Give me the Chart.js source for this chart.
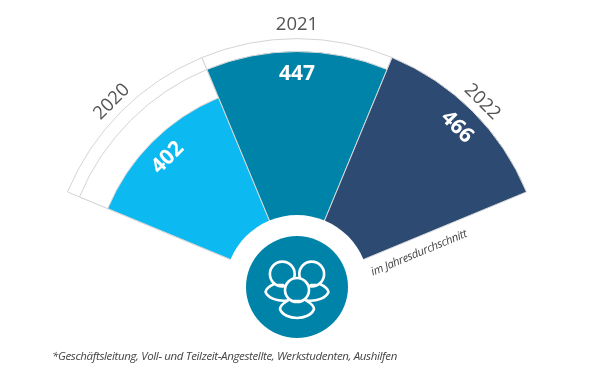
<!DOCTYPE html>
<html lang="de">

<head>
    <meta charset="UTF-8">
    <title>Mitarbeiter im Jahresdurchschnitt</title>
    <script src="https://cdn.jsdelivr.net/npm/chart.js"></script>
    <style>
        html, body { margin: 0; width: 594px; height: 380px; overflow: hidden; background: #fff; }
        #wrap { position: relative; width: 594px; height: 380px; overflow: hidden; }
        #myChart { position: absolute; left: 0; top: 0; }
        #fussnote {
            position: absolute; left: 52px; top: 348px; white-space: nowrap;
            font: italic 11.5px "Open Sans", sans-serif; letter-spacing: -0.35px; color: #444;
        }
    </style>
</head>

<body>
    <div id="wrap">
        <canvas id="myChart" width="594" height="574"></canvas>
        <div id="fussnote">*Geschäftsleitung, Voll- und Teilzeit-Angestellte, Werkstudenten, Aushilfen</div>
    </div>

    <script>
        const jahre = ['2020', '2021', '2022'];
        const werte = [402, 447, 466];
        // grey outlines behind the smaller years
        const rahmen447 = [447, null, null];
        const rahmen466 = [466, 466, null];
        const farben = ['#0cb9f0', '#0083a9', '#2d4b72'];

        const schrift = '"Open Sans", sans-serif';

        // text rotated so it follows the arc, dist is measured from the center
        function bogenText(ctx, scale, i, dist, text, font, color) {
            const winkel = scale.getIndexAngle(0) + (i + 0.5) * Math.PI / 4;
            ctx.save();
            ctx.translate(scale.xCenter + Math.sin(winkel) * dist, scale.yCenter - Math.cos(winkel) * dist);
            ctx.rotate(winkel);
            ctx.font = font;
            ctx.fillStyle = color;
            ctx.textAlign = 'center';
            ctx.textBaseline = 'middle';
            ctx.fillText(text, 0, 0);
            ctx.restore();
        }

        function zeichneIcon(ctx, x, y) {
            ctx.save();
            ctx.translate(x, y);
            ctx.strokeStyle = '#fff';
            ctx.lineWidth = 2.6;
            ctx.lineCap = 'round';
            ctx.lineJoin = 'round';

            // back heads
            [[-14.7, -13, 12.4], [14.7, -13, 12.4]].forEach(function (k) {
                ctx.beginPath();
                ctx.arc(k[0], k[1], k[2], 0, Math.PI * 2);
                ctx.stroke();
            });

            // left and right shoulders
            [-1, 1].forEach(function (s) {
                ctx.beginPath();
                ctx.moveTo(s * 23, -3);
                ctx.bezierCurveTo(s * 27, -1, s * 31, 1, s * 31.5, 5);
                ctx.bezierCurveTo(s * 29, 11, s * 20, 14.5, s * 10, 13.5);
                ctx.stroke();
                ctx.beginPath();
                ctx.moveTo(s * 14, -2);
                ctx.lineTo(s * 19, -2);
                ctx.stroke();
            });

            // front head hides what is behind it
            ctx.fillStyle = '#0083a9';
            ctx.beginPath();
            ctx.arc(0, 3, 12, 0, Math.PI * 2);
            ctx.fill();
            ctx.stroke();

            // front person
            ctx.beginPath();
            ctx.moveTo(-9, 13.5);
            ctx.bezierCurveTo(-13, 16, -17, 18, -17, 22);
            ctx.bezierCurveTo(-15, 28, -7, 31, 0, 31);
            ctx.bezierCurveTo(7, 31, 15, 28, 17, 22);
            ctx.bezierCurveTo(17, 18, 13, 16, 9, 13.5);
            ctx.stroke();
            ctx.beginPath();
            ctx.moveTo(-3.5, 14);
            ctx.lineTo(3.5, 14);
            ctx.stroke();
            ctx.restore();
        }

        const beschriftung = {
            id: 'beschriftung',
            afterDatasetsDraw(chart) {
                const ctx = chart.ctx;
                const scale = chart.scales.r;
                const cx = scale.xCenter;
                const cy = scale.yCenter;

                // white ring and the round badge in the middle
                ctx.fillStyle = '#fff';
                ctx.beginPath();
                ctx.arc(cx, cy, 72, 0, Math.PI * 2);
                ctx.fill();
                ctx.fillStyle = '#0083a9';
                ctx.beginPath();
                ctx.arc(cx, cy, 51, 0, Math.PI * 2);
                ctx.fill();
                zeichneIcon(ctx, cx, cy);

                jahre.forEach(function (jahr, i) {
                    bogenText(ctx, scale, i, 262, jahr, '18.5px ' + schrift, '#555');
                    const r = scale.getDistanceFromCenterForValue(werte[i]) - 22;
                    bogenText(ctx, scale, i, r, String(werte[i]), 'bold 21px ' + schrift, '#fff');
                });

                // note under the 2022 segment
                ctx.save();
                ctx.translate(cx + 122, cy - 34);
                ctx.rotate(-22.5 * Math.PI / 180);
                ctx.font = 'italic 11.3px ' + schrift;
                ctx.letterSpacing = '-0.3px';
                ctx.fillStyle = '#444';
                ctx.textAlign = 'center';
                ctx.textBaseline = 'middle';
                ctx.fillText('im Jahresdurchschnitt', 0, 0);
                ctx.restore();
            }
        };

        new Chart(document.getElementById('myChart'), {
            type: 'polarArea',
            data: {
                labels: jahre,
                datasets: [
                    { data: werte, backgroundColor: farben, borderColor: '#d9d9d9', borderWidth: 1, angle: 45 },
                    { data: rahmen447, backgroundColor: '#fff', borderColor: '#d4d4d4', borderWidth: 1, angle: 45 },
                    { data: rahmen466, backgroundColor: '#fff', borderColor: '#d4d4d4', borderWidth: 1, angle: 45 }
                ]
            },
            options: {
                responsive: false,
                animation: false,
                plugins: { legend: { display: false }, tooltip: { enabled: false } },
                scales: {
                    r: {
                        startAngle: -67.5,
                        min: 100.7,
                        max: 522.8,
                        ticks: { display: false },
                        grid: { display: false },
                        angleLines: { display: false },
                        pointLabels: { display: false }
                    }
                }
            },
            plugins: [beschriftung]
        });
    </script>
</body>

</html>
